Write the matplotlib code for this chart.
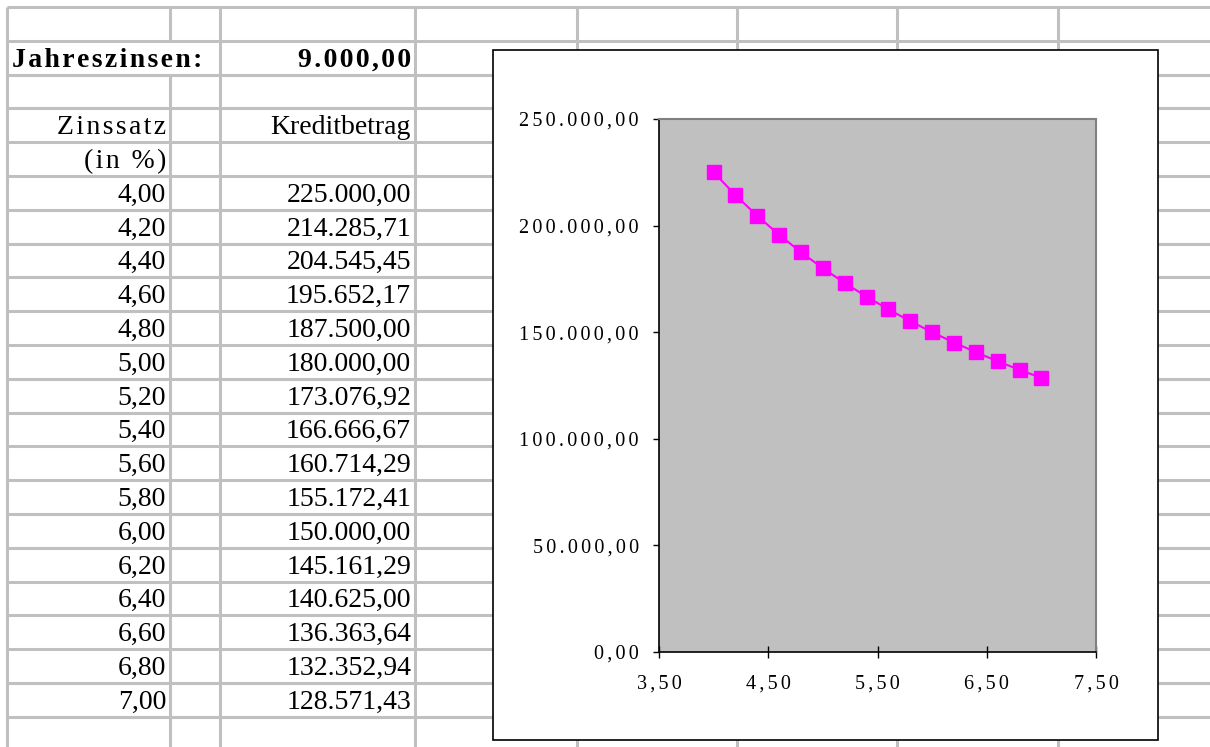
import matplotlib
matplotlib.use("Agg")
import matplotlib.pyplot as plt
from matplotlib.patches import Rectangle
from matplotlib.ticker import FixedLocator, FuncFormatter

# --- sheet contents -------------------------------------------------------
jahreszinsen = 9000.00
zinssatz = [4.00, 4.20, 4.40, 4.60, 4.80, 5.00, 5.20, 5.40,
            5.60, 5.80, 6.00, 6.20, 6.40, 6.60, 6.80, 7.00]
kreditbetrag = [225000.00, 214285.71, 204545.45, 195652.17, 187500.00,
                180000.00, 173076.92, 166666.67, 160714.29, 155172.41,
                150000.00, 145161.29, 140625.00, 136363.64, 132352.94,
                128571.43]
y_ticks = [0, 50000, 100000, 150000, 200000, 250000]
x_ticks = [3.5, 4.5, 5.5, 6.5, 7.5]


def de(v):
    """German number format: 1.234,56"""
    s = f"{v:,.2f}"
    return s.replace(",", "X").replace(".", ",").replace("X", ".")


def spaced(s, n=2):
    """Letter-spaced text (hair spaces between glyphs)."""
    return ("\u200a" * n).join(s)


W, H = 1210, 747
fig = plt.figure(figsize=(W / 100, H / 100), dpi=100)
SERIF = ["Liberation Serif", "DejaVu Serif"]

# full-figure pixel canvas for the worksheet grid
sheet = fig.add_axes([0, 0, 1, 1])
sheet.set_xlim(0, W)
sheet.set_ylim(H, 0)
sheet.axis("off")

GRID = "#c0c0c0"
LW = 2.2
row_h = 33.8
rows = [7 + row_h * k for k in range(23)]
cols = [7, 170, 220, 415, 577, 737, 897, 1058]

for y in rows:
    sheet.plot([7, W], [y, y], color=GRID, lw=LW, solid_capstyle="butt", zorder=1)
for x in cols:
    if x == 170:
        # column A text in row 2 spills over into column B
        sheet.plot([x, x], [rows[0], rows[1]], color=GRID, lw=LW, solid_capstyle="butt", zorder=1)
        sheet.plot([x, x], [rows[2], H], color=GRID, lw=LW, solid_capstyle="butt", zorder=1)
    else:
        sheet.plot([x, x], [rows[0], H], color=GRID, lw=LW, solid_capstyle="butt", zorder=1)

FS = 20


def cell_text(row, txt, x, ha, bold=False):
    sheet.text(x, rows[row + 1] - 8, txt, ha=ha, va="baseline", fontsize=FS,
               family=SERIF, fontweight="bold" if bold else "normal", zorder=3)


cell_text(1, spaced("Jahreszinsen:", 1), 12, "left", bold=True)
cell_text(1, spaced(de(jahreszinsen), 1), 411, "right", bold=True)
cell_text(3, spaced("Zinssatz", 1), 166, "right")
cell_text(3, "Kreditbetrag", 411, "right")
cell_text(4, spaced("(in %)", 1), 166, "right")
for i, (z, k) in enumerate(zip(zinssatz, kreditbetrag)):
    cell_text(5 + i, de(z), 166, "right")
    cell_text(5 + i, de(k), 411, "right")

# chart object frame
sheet.add_patch(Rectangle((493, 50), 1158 - 493, 740 - 50, facecolor="white",
                          edgecolor="black", lw=1.2, zorder=5))

# plot area
L, T, R, B = 659, 119, 1096, 652
ax = fig.add_axes([L / W, 1 - B / H, (R - L) / W, (B - T) / H])
ax.set_zorder(10)
ax.set_facecolor("#c0c0c0")
ax.plot(zinssatz, kreditbetrag, color="#ff00ff", lw=1.5, marker="s",
        markersize=10.5, markerfacecolor="#ff00ff", markeredgecolor="#ff00ff",
        clip_on=False)
ax.set_xlim(3.5, 7.5)
ax.set_ylim(0, 250000)
ax.xaxis.set_major_locator(FixedLocator(x_ticks))
ax.yaxis.set_major_locator(FixedLocator(y_ticks))
ax.xaxis.set_major_formatter(FuncFormatter(lambda v, p: spaced(de(v))))
ax.yaxis.set_major_formatter(FuncFormatter(lambda v, p: spaced(de(v))))

for side in ("left", "bottom"):
    ax.spines[side].set_color("black")
    ax.spines[side].set_linewidth(1.2)
for side in ("top", "right"):
    ax.spines[side].set_color("#808080")
    ax.spines[side].set_linewidth(1.5)

ax.tick_params(axis="y", direction="out", length=4.5, width=1, color="black",
               pad=10, labelsize=14.5)
ax.tick_params(axis="x", direction="inout", length=8, width=1, color="black",
               pad=12, labelsize=14.5)
for lab in ax.get_xticklabels() + ax.get_yticklabels():
    lab.set_family(SERIF)

fig.savefig("out.png", dpi=100)
